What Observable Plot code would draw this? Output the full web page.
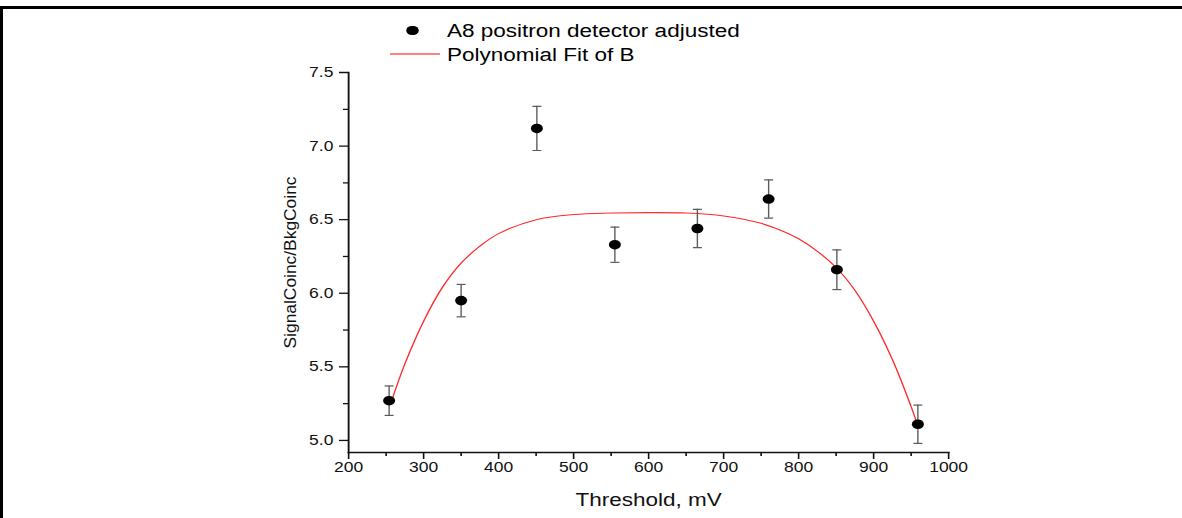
<!DOCTYPE html>
<html><head><meta charset="utf-8">
<script src="https://cdn.jsdelivr.net/npm/d3@7"></script>
<script src="https://cdn.jsdelivr.net/npm/@observablehq/plot@0.6"></script>
<style>
html,body{margin:0;padding:0;background:#fff;}
#page{position:relative;width:1182px;height:518px;overflow:hidden;background:#fff;font-family:"Liberation Sans",Arial,sans-serif;}
#fig{position:absolute;left:0;top:0;width:946px;transform:scaleX(1.25);transform-origin:0 0;}
#legend{position:relative;height:60px;}
.lg-text{position:absolute;left:357.6px;font-size:18px;line-height:18px;color:#000;white-space:nowrap;}
.lg-dot{position:absolute;left:325.4px;top:25.9px;width:9.6px;height:9.6px;border-radius:50%;background:#000;}
.lg-line{position:absolute;left:312px;top:53.3px;width:40px;height:1.5px;background:#ff8080;}
.border-top{position:absolute;left:0;top:6px;width:1182px;height:3px;background:#000;}
.border-left{position:absolute;left:0;top:6px;width:3px;height:512px;background:#000;}
</style></head><body>
<div id="page">
  <div id="fig">
    <div id="legend"></div>
    <div id="chart"></div>
  </div>
  <div class="border-top"></div><div class="border-left"></div>
</div>
<script>
// ---- data ----
const threshold = [254, 350, 451, 555, 665, 760, 851, 959];
const ratio = [5.27, 5.95, 7.12, 6.33, 6.44, 6.64, 6.16, 5.11];
const ratioError = [0.10, 0.11, 0.15, 0.12, 0.13, 0.13, 0.135, 0.13];
const fitThreshold = [256, 275, 300, 325, 350, 375, 400, 450, 500, 550, 600, 650, 700, 750, 775, 800, 825, 850, 875, 900, 925, 950, 959];
const fitRatio = [5.25, 5.52, 5.81, 6.04, 6.205, 6.32, 6.405, 6.50, 6.535, 6.545, 6.548, 6.545, 6.525, 6.475, 6.43, 6.37, 6.285, 6.175, 6.02, 5.81, 5.55, 5.23, 5.10];
const xMajorTicks = [200, 300, 400, 500, 600, 700, 800, 900, 1000];
const xMinorTicks = [250, 350, 450, 550, 650, 750, 850, 950];
const yMajorTicks = [5.0, 5.5, 6.0, 6.5, 7.0, 7.5];
const yMinorTicks = [5.25, 5.75, 6.25, 6.75, 7.25];
const seriesNames = ["A8 positron detector adjusted", "Polynomial Fit of B"];
const xTitle = "Threshold, mV";
const yTitle = "SignalCoinc/BkgCoinc";

// ---- tables built from the arrays ----
const points = threshold.map((x, i) => ({x, y: ratio[i], lo: ratio[i] - ratioError[i], hi: ratio[i] + ratioError[i]}));
const fit = fitThreshold.map((x, i) => ({x, y: fitRatio[i]}));

// legend
const legend = document.getElementById("legend");
legend.innerHTML =
  `<div class="lg-dot"></div><div class="lg-text" style="top:21.5px">${seriesNames[0]}</div>` +
  `<div class="lg-line"></div><div class="lg-text" style="top:45.5px">${seriesNames[1]}</div>`;

const capSymbol = {draw(context) { context.moveTo(-3.6, 0); context.lineTo(3.6, 0); }};

const chart = Plot.plot({
  width: 946,
  height: 458,
  marginLeft: 278.4,
  marginRight: 187.6,
  marginTop: 12,
  marginBottom: 66,
  style: {fontFamily: "Liberation Sans, Arial, sans-serif", fontSize: "14px", color: "#111", background: "transparent"},
  x: {domain: [200, 1000]},
  y: {domain: [4.918, 7.5]},
  marks: [
    Plot.frame({anchor: "left", strokeWidth: 1.5, stroke: "#111"}),
    Plot.frame({anchor: "bottom", strokeWidth: 1.5, stroke: "#111"}),
    Plot.axisX({ticks: xMajorTicks, tickSize: 7, tickPadding: 3, strokeWidth: 1.3, tickFormat: d3.format("d"),
      label: xTitle, labelAnchor: "center", labelArrow: "none", labelOffset: 53}),
    Plot.axisX({ticks: xMinorTicks, tickSize: 4, strokeWidth: 1.3, tickFormat: () => "", label: null}),
    Plot.axisY({ticks: yMajorTicks, tickSize: 7.2, tickPadding: 5, strokeWidth: 1.3, tickFormat: d3.format(".1f"),
      label: yTitle, labelAnchor: "center", labelArrow: "none", labelOffset: 52}),
    Plot.axisY({ticks: yMinorTicks, tickSize: 4, strokeWidth: 1.3, tickFormat: () => "", label: null}),
    Plot.line(fit, {x: "x", y: "y", stroke: "#ff2a2a", strokeWidth: 1.1, curve: "catmull-rom"}),
    Plot.ruleX(points, {x: "x", y1: "lo", y2: "hi", stroke: "#5a5a5a", strokeWidth: 1.1}),
    Plot.dot(points, {x: "x", y: "lo", symbol: capSymbol, stroke: "#5a5a5a", strokeWidth: 1.2, fill: "none"}),
    Plot.dot(points, {x: "x", y: "hi", symbol: capSymbol, stroke: "#5a5a5a", strokeWidth: 1.2, fill: "none"}),
    Plot.dot(points, {x: "x", y: "y", r: 4.8, fill: "#000", stroke: "none"})
  ]
});
document.getElementById("chart").appendChild(chart);

// axis title styling
for (const t of chart.querySelectorAll("text")) {
  const s = t.textContent.trim();
  if (s.startsWith(yTitle)) {
    t.textContent = yTitle;
    t.style.fontSize = "13.7px";
    t.setAttribute("textLength", "172");
    t.setAttribute("lengthAdjust", "spacingAndGlyphs");
  } else if (s.startsWith(xTitle)) {
    t.textContent = xTitle;
    t.style.fontSize = "18px";
  }
}
</script>
</body></html>
